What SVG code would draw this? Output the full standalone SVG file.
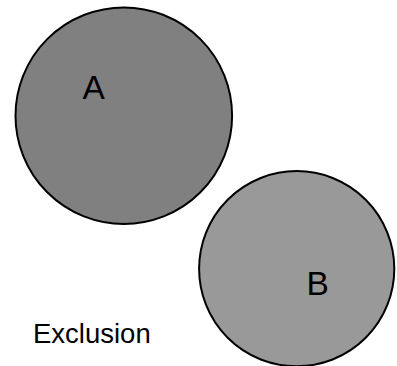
<svg xmlns="http://www.w3.org/2000/svg" width="397" height="366" viewBox="0 0 397 366">
<style>
.set{stroke:#000;stroke-width:2}
.lbl{font-family:"Liberation Sans",Arial,sans-serif;fill:#000}
</style>
<rect width="397" height="366" fill="#fff"/>
<g id="nodeA">
<circle class="set" cx="123.8" cy="115.7" r="108.3" fill="#808080"/>
<text class="lbl" x="82.5" y="99" font-size="33.5">A</text>
</g>
<g id="nodeB">
<circle class="set" cx="296.7" cy="268.7" r="97.6" fill="#999999"/>
<text class="lbl" x="306.5" y="295" font-size="33.5">B</text>
</g>
<g id="connectors"></g>
<g id="caption">
<text class="lbl" x="33" y="343.3" font-size="27.5">Exclusion</text>
</g>
</svg>
